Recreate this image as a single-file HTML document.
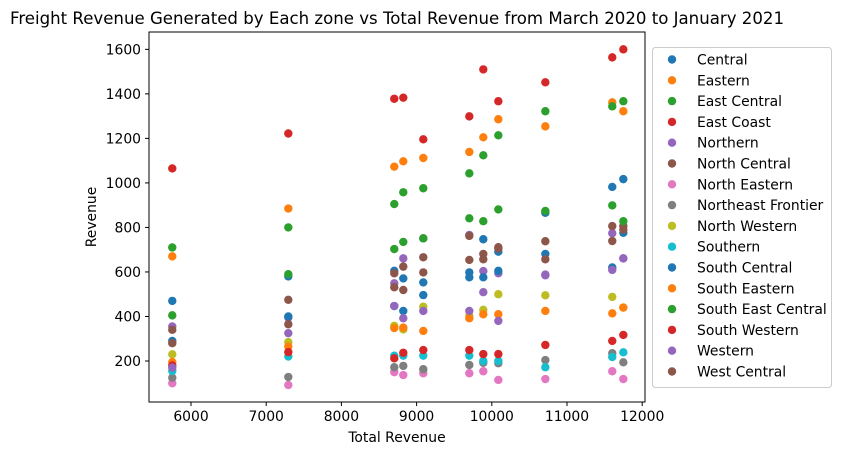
<!DOCTYPE html>
<html><head><meta charset="utf-8"><style>
html,body{margin:0;padding:0;background:#fff;}
svg{display:block;font-family:"DejaVu Sans","Liberation Sans",sans-serif;}
</style></head>
<body>
<svg id="chart" width="842" height="455" viewBox="0 0 842 455" xmlns="http://www.w3.org/2000/svg">
<text x="397" y="24" text-anchor="middle" font-size="16.5" textLength="774" lengthAdjust="spacingAndGlyphs">Freight Revenue Generated by Each zone vs Total Revenue from March 2020 to January 2021</text>
<g id="marks"></g>
<rect x="149" y="32" width="496" height="370" fill="none" stroke="#000" stroke-width="1"/>
<g id="xticks"></g><g id="yticks"></g>
<text x="397" y="442" text-anchor="middle" font-size="13.9">Total Revenue</text>
<text x="0" y="0" transform="translate(96,217) rotate(-90)" text-anchor="middle" font-size="13.9">Revenue</text>
<g id="legend"></g>
</svg>
<script>
const totals = [5751, 7294, 8703, 8823, 9089, 9701, 9887, 10087, 10712, 11602, 11749];
const seriesNames = ["Central","Eastern","East Central","East Coast","Northern","North Central","North Eastern","Northeast Frontier","North Western","Southern","South Central","South Eastern","South East Central","South Western","Western","West Central"];
const central = [470,580,605,571,553,598,747,691,866,982,1017];
const eastern = [670,885,1073,1097,1112,1139,1205,1286,1254,1362,1322];
const eastCentral = [710,800,905,958,976,1043,1124,1214,1322,1344,1367];
const eastCoast = [1065,1222,1378,1383,1196,1299,1510,1367,1452,1564,1600];
const northern = [355,395,549,661,751,766,604,594,588,774,661];
const northCentral = [340,475,594,624,666,762,681,711,738,806,806];
const northEastern = [100,92,150,137,145,145,154,115,119,154,119];
const northeastFrontier = [125,128,172,178,163,182,192,190,204,235,194];
const northWestern = [230,285,358,342,444,403,430,500,495,488,440];
const southern = [155,220,224,224,224,224,200,200,172,218,239];
const southCentral = [290,400,447,425,496,576,576,605,681,620,776];
const southEastern = [195,265,348,350,335,392,410,410,425,414,440];
const southEastCentral = [405,590,703,735,751,841,828,881,874,899,828];
const southWestern = [180,240,212,237,249,249,231,231,272,290,317];
const western = [170,325,447,392,425,425,509,380,585,609,661];
const westCentral = [280,365,531,519,598,654,657,705,657,739,790];
const xTicks = [6000,7000,8000,9000,10000,11000,12000];
const yTicks = [200,400,600,800,1000,1200,1400,1600];

const allSeries = [central,eastern,eastCentral,eastCoast,northern,northCentral,northEastern,northeastFrontier,northWestern,southern,southCentral,southEastern,southEastCentral,southWestern,western,westCentral];
const colors = ["#1f77b4","#ff7f0e","#2ca02c","#d62728","#9467bd","#8c564b","#e377c2","#7f7f7f","#bcbd22","#17becf","#1f77b4","#ff7f0e","#2ca02c","#d62728","#9467bd","#8c564b"];
const NS = "http://www.w3.org/2000/svg";
function xs(v){return 191 + (v-6000)*0.0752;}
function ys(v){return 361 - (v-200)*0.2226;}
function mk(tag, attrs, parent){const e=document.createElementNS(NS,tag);for(const k in attrs)e.setAttribute(k,attrs[k]);parent.appendChild(e);return e;}

const marks = document.getElementById("marks");
allSeries.forEach((s,i)=>{
  const slug = seriesNames[i].toLowerCase().replace(/\s+/g,'-');
  const g = mk("g",{},marks);
  
  
  s.forEach((v,j)=>{
    const c = mk("circle",{cx:xs(totals[j]),cy:ys(v),r:4.2,fill:colors[i]},g);
    
    
  });
});

const xt = document.getElementById("xticks");
xTicks.forEach(t=>{
  const x = xs(t);
  mk("line",{x1:x,x2:x,y1:402,y2:406,stroke:"#000"},xt);
  const tx = mk("text",{x:x,y:421,"text-anchor":"middle","font-size":"13.9"},xt);
  tx.textContent = t;
  
  
});
const yt = document.getElementById("yticks");
yTicks.forEach(t=>{
  const y = ys(t);
  mk("line",{x1:145,x2:149,y1:y,y2:y,stroke:"#000"},yt);
  const tx = mk("text",{x:141,y:y+5,"text-anchor":"end","font-size":"13.9"},yt);
  tx.textContent = t;
  
  
});

const lg = document.getElementById("legend");
mk("rect",{x:652.5,y:47.5,width:179,height:340,rx:3,fill:"#fff",stroke:"#ccc"},lg);
seriesNames.forEach((n,i)=>{
  const y = 59.5 + i*20.8;
  const g = mk("g",{},lg);
  
  
  mk("circle",{cx:672,cy:y,r:4.2,fill:colors[i]},g);
  const t = mk("text",{x:697,y:y+5,"font-size":"13.9"},g);
  t.textContent = n;
});
</script>
</body></html>
